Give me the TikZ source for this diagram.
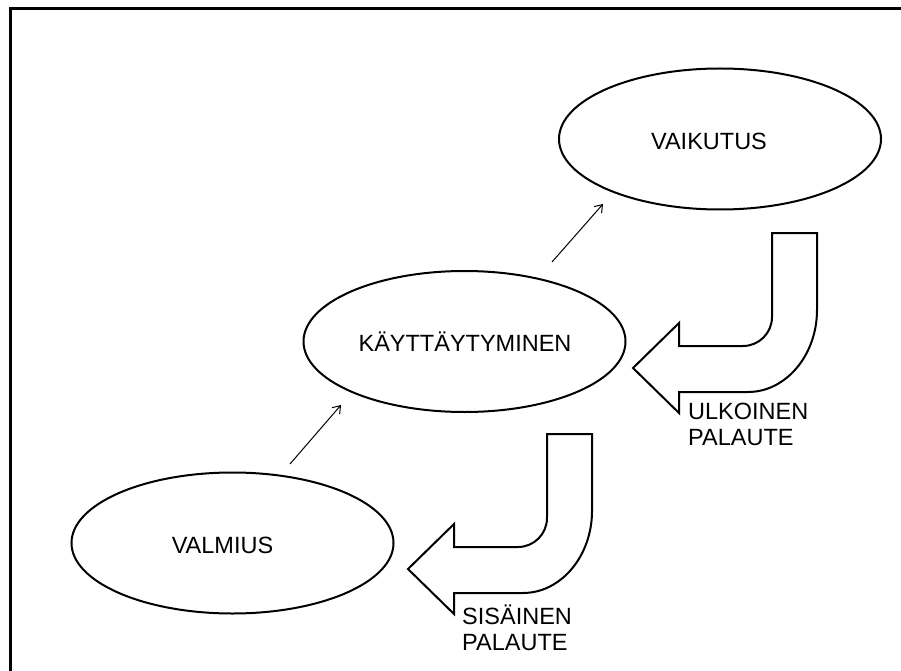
\documentclass[tikz,border=0pt]{standalone}
\usepackage{fontspec}
\setmainfont{Liberation Sans}
\usetikzlibrary{shapes.geometric,arrows.meta}

\tikzset{
  phase/.style={draw, ellipse, line width=2pt, minimum width=322pt, minimum height=141pt, inner sep=0pt},
  caption/.style={font=\fontsize{23.5}{26}\selectfont, inner sep=0pt},
  flow/.style={line width=1pt, -{Straight Barb[length=7pt,width=10pt,line width=1pt]}},
  blockline/.style={draw, line width=2pt, line join=miter, fill=white},
  % bent feedback arrow; origin at the top right corner of its stem
  bentarrow/.pic={
    \path[blockline] (-45,0) -- (0,0) -- (0,77)
      .. controls (0,122) and (-31,159) .. (-69,159)
      -- (-138,159) -- (-138,180) -- (-184,135) -- (-138,90) -- (-138,113)
      -- (-74,113) .. controls (-58,113) and (-45,100) .. (-45,84) -- cycle;
  }
}

\begin{document}
\begin{tikzpicture}[x=1pt, y=-1pt]
  \useasboundingbox (0,0) rectangle (901,671);
  \clip (0,0) rectangle (901,671);

  % outer frame
  \draw[line width=2.5pt] (10.7,8.7) rectangle (1000,800);

  % the three phases
  \node[phase] (vaikutus) at (720,139) {};
  \node[phase] (kayt) at (464.5,341.5) {};
  \node[phase] (valmius) at (232.5,543) {};

  \node[caption, anchor=base] (vaikutus-t) at (709,149.3) {VAIKUTUS};
  \node[caption, anchor=base] (kayt-t) at (465,351) {KÄYTTÄYTYMINEN};
  \node[caption, anchor=base] (valmius-t) at (222.5,553.3) {VALMIUS};

  % progression arrows
  \coordinate (a1s) at (290,464);
  \coordinate (a1e) at (341,405);
  \coordinate (a2s) at (552,262);
  \coordinate (a2e) at (603,204);
  \draw[flow] (a1s) -- (a1e);
  \draw[flow] (a2s) -- (a2e);

  % feedback loops
  \pic at (817,233) {bentarrow};
  \pic at (592,434) {bentarrow};

  \node[caption, anchor=north west, align=left] (ulko) at (688,402.7) {ULKOINEN\\PALAUTE};
  \node[caption, anchor=north west, align=left] (sisa) at (462,605) {SISÄINEN\\PALAUTE};
\end{tikzpicture}
\end{document}
